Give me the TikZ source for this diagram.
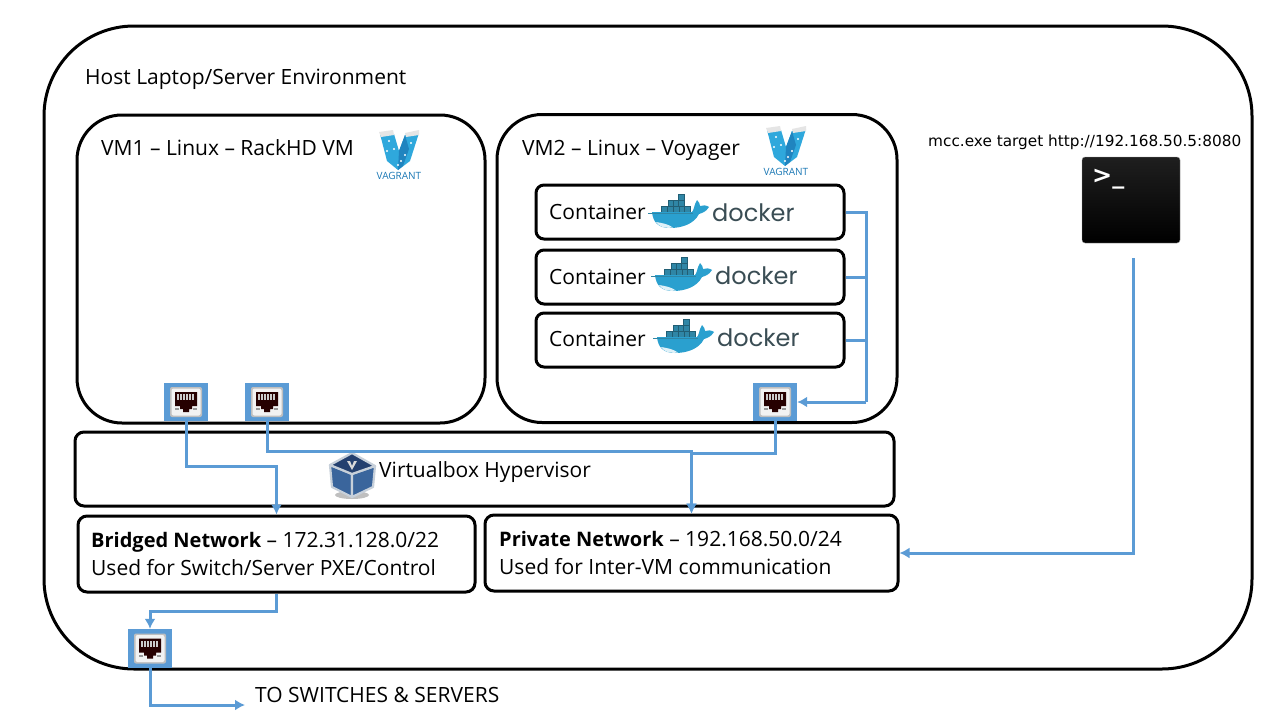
\documentclass[tikz,border=0pt]{standalone}
\usepackage{fontspec}
\setmainfont{Open Sans}
\newfontfamily\logofont{Poppins}
\newfontfamily\monofont{DejaVu Sans}
\usetikzlibrary{positioning,arrows.meta}
\definecolor{linkblue}{HTML}{5B9BD5}
\definecolor{whaleblue}{HTML}{2AA0CF}
\definecolor{crateblue}{HTML}{2F86A6}
\definecolor{dockgrey}{HTML}{3A4D54}
\definecolor{vagblue}{HTML}{2FA8DC}
\definecolor{vagdark}{HTML}{1B78B5}
\definecolor{cubeblue}{HTML}{3A659C}
\definecolor{cubenavy}{HTML}{24406F}
\definecolor{cubeedge}{HTML}{C7D0DA}
\newcommand{\netname}[1]{{\fontsize{20}{28}\selectfont\textbf{#1}}}
\tikzset{
	host box/.style={draw,line width=3pt,rounded corners=90pt,minimum width=1208pt,minimum height=643pt},
	VM box/.style={draw,line width=3pt,rounded corners=45pt,minimum height=308pt},
	C box/.style={draw,line width=3pt,rounded corners=8pt,minimum width=308pt,minimum height=54pt},
	net box/.style={draw,line width=3pt,rounded corners=9pt,minimum height=76pt},
	port/.style={fill=linkblue,minimum width=44pt,minimum height=38pt,inner sep=0pt},
	link/.style={draw=linkblue,line width=3pt,-{Latex[length=10pt,width=11pt]}},
	link join/.style={draw=linkblue,line width=3pt},
	lbl/.style={anchor=base west,inner sep=0pt,align=left,font=\fontsize{21}{28}\selectfont},
	rj jack/.pic={
		\fill[white!75!black,rounded corners=2pt] (-16,-15) rectangle (16,15);
		\fill[white!95!black,rounded corners=2pt] (-14.5,-13.5) rectangle (14.5,13.5);
		\fill[black!85!red] (-11,-10) -- (11,-10) -- (11,4) -- (6,4) -- (6,7) -- (3,7) -- (3,10) -- (-3,10) -- (-3,7) -- (-6,7) -- (-6,4) -- (-11,4) -- cycle;
		\foreach \i in {-8.6,-5.6,-2.6,0.4,3.4,6.4}
			\fill[white!80!black] (\i,-8) rectangle ++(1.8,6);
		\fill[white!60!black] (-11,6) rectangle (-7,8);
		\fill[white!60!black] (7,6) rectangle (11,8);
	},
	vagrant logo/.pic={
		\fill[vagblue] (1,5) -- (15,5) -- (20,22) -- (26,6) -- (40,4) -- (31,32) -- (19,41) -- (8,32) -- cycle;
		\fill[vagdark!75!vagblue] (26,6) -- (20,22) -- (19,41) -- (24,37) -- (30,20) -- cycle;
		\fill[white!90!black] (0,3) -- (14,1) -- (15,6) -- (2,8) -- cycle;
		\fill[white!90!black] (26,4) -- (40,1) -- (40,6) -- (27,8) -- cycle;
		\foreach \a/\b in {10/12,8/22,15/20,22/32,26/26,32/14,19/36}
			\fill[white] (\a,\b) circle (1.2pt);
		\node[inner sep=0pt,text=vagdark,font=\fontsize{10}{10}\selectfont] (name) at (20,47) {VAGRANT};
	},
	docker logo/.pic={
		\foreach \a/\b in {28/0,18/6,23.5/6,28/6,11/12,17/12,23/12,29/12,34/12}
			\fill[crateblue,draw=crateblue!70!black,line width=.4pt] (\a,\b) rectangle ++(6,6);
		\fill[whaleblue] (2,18) -- (42,18) .. controls (44,16) and (44,11) .. (47,6) .. controls (49,8) and (50,10) .. (50,12) .. controls (53,11) and (56,11) .. (59,13) .. controls (56,18) and (52,19) .. (49,20) .. controls (44,30) and (32,34) .. (20,34) .. controls (8,34) and (3,28) .. (2,18) -- cycle;
		\fill[white!85!whaleblue] (6,28) .. controls (12,29) and (18,30) .. (23,33.5) .. controls (15,34.5) and (9,33) .. (6,28) -- cycle;
		\draw[crateblue,line width=1pt] (-2,19) -- (43,19);
		\node[anchor=west,inner sep=0pt,text=dockgrey,font=\logofont\fontsize{24}{26}\selectfont] (name) at (62,19) {docker};
	},
	vbox cube/.pic={
		\fill[black!25] (0,20) ellipse (17pt and 4pt);
		\draw[cubeedge,line width=2.2pt,line join=round,fill=cubeblue] (-22,-10) -- (0,-1) -- (0,22) -- (-20,12) -- cycle;
		\draw[cubeedge,line width=2.2pt,line join=round,fill=cubeblue] (23,-9) -- (0,-1) -- (0,22) -- (21,12) -- cycle;
		\draw[cubeedge,line width=2.2pt,line join=round,fill=cubenavy] (0,-22) -- (23,-9) -- (0,-1) -- (-22,-10) -- cycle;
		\fill[white!85!black] (-5,-14) -- (-2,-14) -- (0,-9) -- (2,-14) -- (5,-14) -- (0,-5) -- cycle;
	},
}

\begin{document}
\begin{tikzpicture}[x=1pt,y=-1pt]
	\path[fill=white,use as bounding box] (0,0) rectangle (1280,720);

	\node[host box] (host) at (648,347.5) {};
	\node[VM box,minimum width=408pt] (vm1) at (281,269) {};
	\node[VM box,minimum width=400pt] (vm2) at (697,268.5) {};
	\node[C box] (c1) at (690,212) {};
	\node[C box] (c2) at (690,277) {};
	\node[C box] (c3) at (690,340) {};
	\node[net box,minimum width=819pt,minimum height=74pt] (hyper) at (484.5,469) {};
	\node[net box,minimum width=397pt] (bridged) at (276.5,554) {};
	\node[net box,minimum width=413pt] (private) at (691.5,553) {};

	\node[lbl] (hostlbl) at (85,84) {Host Laptop/Server Environment};
	\node[lbl] (vm1lbl) at (101,155) {VM1 -- Linux -- RackHD VM};
	\node[lbl] (vm2lbl) at (522,155) {VM2 -- Linux -- Voyager};
	\node[lbl] (c1lbl) at (549,219) {Container};
	\node[lbl] (c2lbl) at (549,284) {Container};
	\node[lbl] (c3lbl) at (549,346) {Container};
	\node[lbl] (hyperlbl) at (379,477) {Virtualbox Hypervisor};
	\node[lbl,anchor=west] (bridgedlbl) at (91,554) {\netname{Bridged Network} -- 172.31.128.0/22\\Used for Switch/Server PXE/Control};
	\node[lbl,anchor=west] (privatelbl) at (499,553) {\netname{Private Network} -- 192.168.50.0/24\\Used for Inter-VM communication};
	\node[lbl] (swlbl) at (255,702) {TO SWITCHES \& SERVERS};
	\node[lbl,font=\monofont\fontsize{15.3}{18}\selectfont] (mcclbl) at (928,146) {mcc.exe target http://192.168.50.5:8080};

	\pic (vag1) at (379,129) {vagrant logo};
	\pic (vag2) at (766,125) {vagrant logo};
	\pic (dock1) at (650,194) {docker logo};
	\pic (dock2) at (653,257) {docker logo};
	\pic (dock3) at (655,319) {docker logo};
	\pic (cube) at (352,475) {vbox cube};

	\node[top color=black!88,bottom color=black,rounded corners=3pt,draw=black!40,minimum width=98pt,minimum height=86pt] (term) at (1131,200) {};
	\node[anchor=west,inner sep=0pt,text=white,font=\monofont\bfseries\fontsize{24}{26}\selectfont] (prompt) at (1092,179) {>\_};

	\coordinate (termout) at (1133,258);
	\coordinate (cjoin) at (866,402);
	\coordinate (swout) at (245,705);

	\node[port] (p1) at (186,402) {};
	\node[port] (p2) at (267,402) {};
	\node[port] (p3) at (775,402) {};
	\node[port,minimum height=39pt] (p4) at (150,648.5) {};
	\foreach \p in {p1,p2,p3,p4}
		\pic at (\p) {rj jack};

	\draw[link] (p1.south) -- ++(0,45) -| (bridged.north);
	\draw[link] (p2.south) -- ++(0,30) -| (private.north);
	\draw[link] (p3.south) -- ++(0,32) -| (private.north);
	\draw[link join] (c1.east) -| (cjoin);
	\draw[link join] (c2.east) -- (c2.east -| cjoin);
	\draw[link join] (c3.east) -- (c3.east -| cjoin);
	\draw[link] (cjoin) -- (p3.east);
	\draw[link] (termout) |- (private.east);
	\draw[link] (bridged.south) -- ++(0,18) -| (p4.north);
	\draw[link] (p4.south) |- (swout);
\end{tikzpicture}
\end{document}
